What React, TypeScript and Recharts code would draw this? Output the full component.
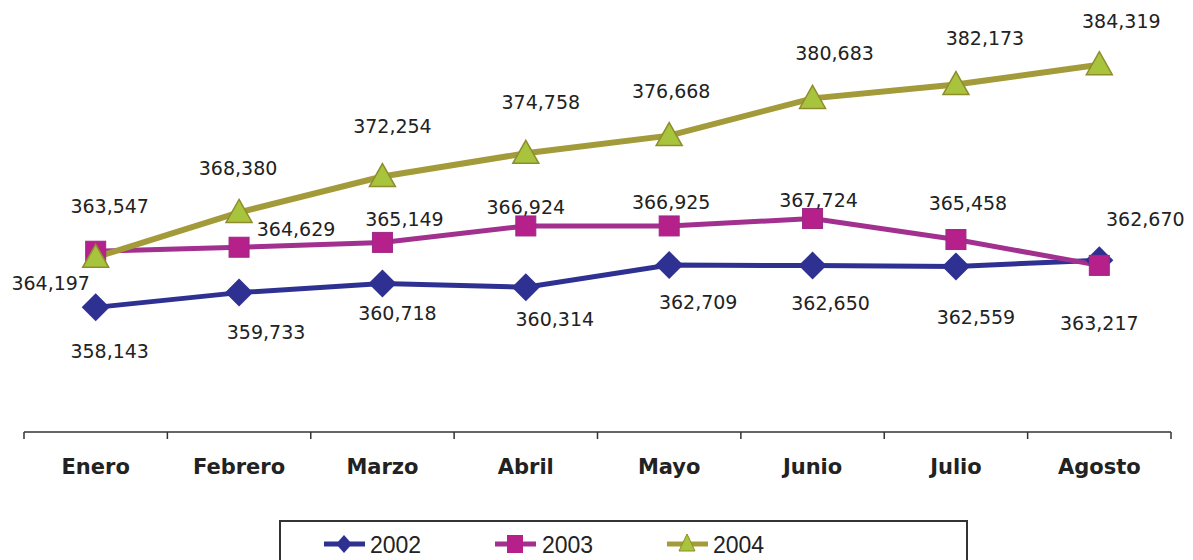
import React from 'react'
import { LineChart, Line, XAxis, YAxis, Legend, LabelList } from 'recharts'

const months = ['Enero', 'Febrero', 'Marzo', 'Abril', 'Mayo', 'Junio', 'Julio', 'Agosto']
const v2002 = [358143, 359733, 360718, 360314, 362709, 362650, 362559, 363217]
const v2003 = [364197, 364629, 365149, 366924, 366925, 367724, 365458, 362670]
const v2004 = [363547, 368380, 372254, 374758, 376668, 380683, 382173, 384319]

// label placement relative to each point (dx, dy) – hand-placed like the original
const off2002 = [[14, 44], [27, 39], [15, 30], [29, 32], [29, 37], [18, 37], [20, 51], [0, 63]]
const off2003 = [[-45, 32], [57, -18], [22, -23], [0, -19], [2, -24], [6, -19], [12, -37], [46, -46]]
const off2004 = [[14, -51], [-1, -44], [10, -51], [15, -51], [2, -45], [22, -45], [29, -47], [22, -44]]

const C2002 = '#2E3192'
const C2003L = '#A2308F'
const C2003M = '#B5208A'
const C2004L = '#A39B3A'
const C2004M = '#A8C43C'

const W = 1177
const H = 575
const MARGIN = { top: 4, right: 14, bottom: 91, left: 16 }
const BAND = (W - MARGIN.left - MARGIN.right) / months.length

const data = months.map((m, i) => ({ idx: i, month: m, s2002: v2002[i], s2003: v2003[i], s2004: v2004[i] }))
const boundaries = months.map((_, i) => i - 0.5).concat([months.length - 0.5])

const fmt = (v: number) => v.toLocaleString('en-US')

const Diamond = (p: any) => {
  const { cx, cy } = p
  const r = 14
  return <polygon points={`${cx},${cy - r} ${cx + r},${cy} ${cx},${cy + r} ${cx - r},${cy}`} fill={C2002} />
}
const Square = (p: any) => {
  const { cx, cy } = p
  return <rect x={cx - 10} y={cy - 10} width={20} height={20} fill={C2003M} stroke="#9A2A86" strokeWidth={1} />
}
const Triangle = (p: any) => {
  const { cx, cy } = p
  return (
    <polygon
      points={`${cx},${cy - 13} ${cx + 13},${cy + 10} ${cx - 13},${cy + 10}`}
      fill={C2004M}
      stroke="#8E8C2C"
      strokeWidth={1.5}
    />
  )
}

const makeLabel = (offs: number[][]) => (p: any) => {
  const { x, y, index, value } = p
  const [dx, dy] = offs[index] || [0, 0]
  return (
    <text x={x + dx} y={y + dy} textAnchor="middle" dominantBaseline="central" fontSize={19} fill="#222"
      fontFamily="DejaVu Sans">
      {fmt(value)}
    </text>
  )
}

const MonthTick = (p: any) => {
  const { x, y, payload } = p
  const i = Math.round(payload.value + 0.5)
  if (i >= months.length) return <g />
  return (
    <text x={x + BAND / 2} y={y + 28} textAnchor="middle" dominantBaseline="central" fontSize={21}
      fontWeight="bold" fill="#222" fontFamily="DejaVu Sans">
      {months[i]}
    </text>
  )
}

const legendItems = [
  { name: '2002', line: C2002, lx: 43, tx: 89, kind: 'd' },
  { name: '2003', line: C2003L, lx: 214, tx: 261, kind: 's' },
  { name: '2004', line: C2004L, lx: 386, tx: 432, kind: 't' },
]

const LegendBox = () => (
  <svg width={685} height={56}>
    {legendItems.map(it => {
      const cx = it.lx + 20
      const cy = 22
      return (
        <g key={it.name}>
          <line x1={it.lx} x2={it.lx + 41} y1={cy} y2={cy} stroke={it.line} strokeWidth={5} />
          {it.kind === 'd' && (
            <polygon points={`${cx},${cy - 9} ${cx + 8},${cy} ${cx},${cy + 9} ${cx - 8},${cy}`} fill={C2002} />
          )}
          {it.kind === 's' && <rect x={cx - 8} y={cy - 9} width={16} height={18} fill={C2003M} />}
          {it.kind === 't' && (
            <polygon points={`${cx},${cy - 10} ${cx + 8},${cy + 7} ${cx - 8},${cy + 7}`} fill={C2004M}
              stroke="#8E8C2C" strokeWidth={1} />
          )}
          <text x={it.tx} y={cy + 1} dominantBaseline="central" fontSize={23} fill="#222"
            fontFamily="Liberation Sans Narrow, Liberation Sans">
            {it.name}
          </text>
        </g>
      )
    })}
  </svg>
)

export default function App() {
  return (
    <div style={{ width: W, height: 552, overflow: 'hidden', background: '#fff' }}>
      <LineChart width={W} height={H} data={data} margin={MARGIN}>
        <XAxis
          dataKey="idx"
          type="number"
          domain={[-0.5, months.length - 0.5]}
          ticks={boundaries}
          interval={0}
          height={60}
          tickSize={7}
          tickMargin={0}
          axisLine={{ stroke: '#333', strokeWidth: 1.5 }}
          tickLine={{ stroke: '#333', strokeWidth: 1.5 }}
          tick={<MonthTick />}
        />
        <YAxis hide domain={[344700, 390000]} />
        <Legend
          layout="horizontal"
          verticalAlign="middle"
          align="center"
          content={<LegendBox />}
          wrapperStyle={{
            left: 271,
            top: 512,
            width: 689,
            height: 60,
            border: '2px solid #333',
            boxSizing: 'border-box',
            background: '#fff',
          }}
        />
        <Line dataKey="s2002" stroke={C2002} strokeWidth={5} dot={<Diamond />} isAnimationActive={false}>
          <LabelList dataKey="s2002" content={makeLabel(off2002)} />
        </Line>
        <Line dataKey="s2003" stroke={C2003L} strokeWidth={5} dot={<Square />} isAnimationActive={false}>
          <LabelList dataKey="s2003" content={makeLabel(off2003)} />
        </Line>
        <Line dataKey="s2004" stroke={C2004L} strokeWidth={6} dot={<Triangle />} isAnimationActive={false}>
          <LabelList dataKey="s2004" content={makeLabel(off2004)} />
        </Line>
      </LineChart>
    </div>
  )
}
